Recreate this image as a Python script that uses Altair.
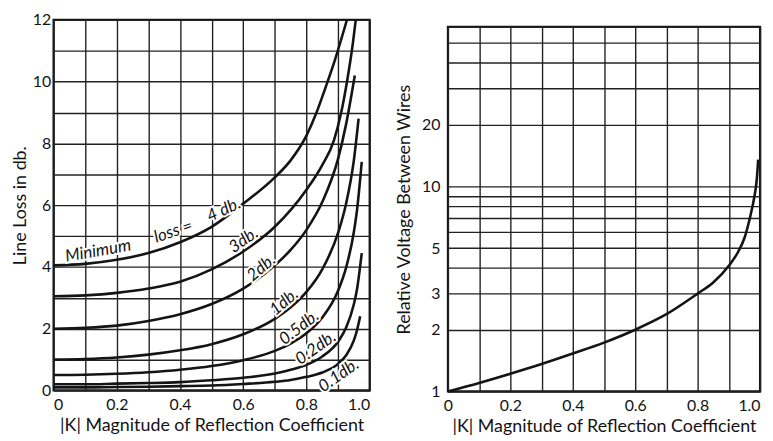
import altair as alt
import pandas as pd

# ---------------- Left panel: line loss vs |K| ----------------
k_4db = [0, 0.1, 0.2, 0.3, 0.4, 0.5, 0.6, 0.7, 0.75, 0.8, 0.83, 0.86, 0.89, 0.928]
loss_4db = [4.05, 4.1, 4.23, 4.45, 4.8, 5.3, 6.05, 6.9, 7.45, 8.25, 8.95, 9.8, 10.7, 12.0]

k_3db = [0, 0.1, 0.2, 0.3, 0.4, 0.5, 0.6, 0.7, 0.8, 0.85, 0.887, 0.91, 0.93, 0.945, 0.956]
loss_3db = [3.05, 3.08, 3.16, 3.3, 3.52, 3.92, 4.5, 5.3, 6.5, 7.3, 8.1, 9.0, 10.1, 11.1, 12.0]

k_2db = [0, 0.1, 0.2, 0.3, 0.4, 0.5, 0.6, 0.7, 0.75, 0.8, 0.85, 0.9, 0.925, 0.953]
loss_2db = [2.0, 2.03, 2.1, 2.25, 2.47, 2.8, 3.3, 4.05, 4.55, 5.2, 6.1, 7.5, 8.6, 10.2]

k_1db = [0, 0.1, 0.2, 0.3, 0.4, 0.5, 0.6, 0.7, 0.75, 0.8, 0.85, 0.9, 0.925, 0.95, 0.965]
loss_1db = [1.0, 1.02, 1.07, 1.16, 1.3, 1.5, 1.82, 2.32, 2.69, 3.19, 3.92, 5.1, 6.03, 7.45, 8.8]

k_05db = [0, 0.1, 0.2, 0.3, 0.4, 0.5, 0.6, 0.7, 0.75, 0.8, 0.85, 0.9, 0.925, 0.95, 0.96, 0.975]
loss_05db = [0.5, 0.51, 0.54, 0.59, 0.67, 0.79, 0.98, 1.28, 1.52, 1.85, 2.36, 3.23, 3.96, 5.13, 5.84, 7.4]

k_02db = [0, 0.1, 0.2, 0.3, 0.4, 0.5, 0.6, 0.7, 0.75, 0.8, 0.85, 0.9, 0.925, 0.95, 0.96, 0.975]
loss_02db = [0.2, 0.2, 0.22, 0.24, 0.27, 0.33, 0.41, 0.55, 0.67, 0.83, 1.1, 1.58, 2.02, 2.79, 3.28, 4.45]

k_01db = [0, 0.1, 0.2, 0.3, 0.4, 0.5, 0.6, 0.7, 0.75, 0.8, 0.85, 0.9, 0.925, 0.95, 0.96, 0.97]
loss_01db = [0.1, 0.1, 0.11, 0.12, 0.14, 0.16, 0.21, 0.28, 0.34, 0.44, 0.58, 0.86, 1.13, 1.62, 1.95, 2.4]

curve_names = ["4", "3", "2", "1", "0.5", "0.2", "0.1"]
curve_k = [k_4db, k_3db, k_2db, k_1db, k_05db, k_02db, k_01db]
curve_loss = [loss_4db, loss_3db, loss_2db, loss_1db, loss_05db, loss_02db, loss_01db]

label_text = ["Minimum", "loss =", "4 db.", "3db.", "2db.", "1db.", "0.5db.", "0.2db.", "0.1db."]
label_k = [0.141, 0.379, 0.539, 0.602, 0.658, 0.73, 0.777, 0.83, 0.903]
label_loss = [4.51, 5.14, 5.84, 4.86, 3.97, 2.86, 2.03, 1.37, 0.48]
label_angle = [350, 341, 335, 325, 320, 320, 322, 325, 325]

# ticks / grid
k_grid = [0, 0.1, 0.2, 0.3, 0.4, 0.5, 0.6, 0.7, 0.8, 0.9, 1.0]
loss_grid = [0, 1, 2, 3, 4, 5, 6, 7, 8, 9, 10, 11, 12]

# ---------------- Right panel: relative voltage ----------------
k_volt = [0, 0.1, 0.2, 0.3, 0.4, 0.5, 0.6, 0.7, 0.8, 0.85, 0.9, 0.93, 0.95, 0.97, 0.98, 0.99, 0.994]
volt = [1.0, 1.1, 1.22, 1.36, 1.53, 1.73, 2.0, 2.38, 3.0, 3.4, 4.1, 4.8, 5.6, 7.3, 8.6, 11.0, 13.5]
volt_grid = [1, 2, 3, 4, 5, 6, 7, 8, 9, 10, 20, 30, 40, 50, 60]
volt_labels = [1, 2, 3, 5, 10, 20]

INK = "#141414"
FONT = "Lato"

rows = []
for name, ks, ls in zip(curve_names, curve_k, curve_loss):
    for k, l in zip(ks, ls):
        rows.append({"curve": name, "K": k, "loss": l})
curves_df = pd.DataFrame(rows)
labels_df = pd.DataFrame({"text": label_text, "K": label_k, "loss": label_loss, "angle": label_angle})
volt_df = pd.DataFrame({"K": k_volt, "V": volt})

x_label_expr = "round(datum.value*10) % 2 == 0 ? (datum.value == 0 ? '0' : format(datum.value, '.1f')) : ''"
volt_label_expr = "indexof([" + ",".join(str(v) for v in volt_labels) + "], datum.value) >= 0 ? toString(datum.value) : ''"

x_left = alt.X("K:Q", scale=alt.Scale(domain=[0, 1], nice=False),
               axis=alt.Axis(values=k_grid, labelExpr=x_label_expr, title="|K| Magnitude of Reflection Coefficient",
                             ticks=False, domain=False, labelOverlap=False, labelPadding=6, titlePadding=4))
y_left = alt.Y("loss:Q", scale=alt.Scale(domain=[0, 12], nice=False),
               axis=alt.Axis(values=loss_grid, labelExpr="datum.value % 2 == 0 ? datum.label : ''",
                             title="Line Loss in db.", ticks=False, domain=False, labelOverlap=False,
                             labelPadding=3, titlePadding=3))

lines_left = alt.Chart(curves_df).mark_line(color=INK, strokeWidth=2.6, interpolate="monotone").encode(
    x=x_left, y=y_left, detail="curve:N")

halo = alt.Chart(labels_df).mark_text(font=FONT, fontSize=17, fontStyle="italic", stroke="white",
                                      strokeWidth=4, fill="white").encode(
    x=x_left, y=y_left, text="text:N", angle=alt.Angle("angle:Q", scale=None))
texts = alt.Chart(labels_df).mark_text(font=FONT, fontSize=17, fontStyle="italic", color=INK).encode(
    x=x_left, y=y_left, text="text:N", angle=alt.Angle("angle:Q", scale=None))

left = alt.layer(lines_left, halo, texts).properties(width=319, height=374)

x_right = alt.X("K:Q", scale=alt.Scale(domain=[0, 1], nice=False),
                axis=alt.Axis(values=k_grid, labelExpr=x_label_expr, title="|K| Magnitude of Reflection Coefficient",
                              ticks=False, domain=False, labelOverlap=False, labelPadding=6, titlePadding=4,
                              labelAlign={"condition": {"test": "datum.value > 0.99", "value": "right"},
                                          "value": "center"}))
y_right = alt.Y("V:Q", scale=alt.Scale(type="log", domain=[1, 60], nice=False),
                axis=alt.Axis(values=volt_grid, labelExpr=volt_label_expr,
                              title="Relative Voltage Between Wires", ticks=False, domain=False,
                              labelOverlap=False, labelPadding=8, titlePadding=8))

right = alt.Chart(volt_df).mark_line(color=INK, strokeWidth=2.6, interpolate="monotone").encode(
    x=x_right, y=y_right).properties(width=315, height=368)

spacer = alt.Chart(pd.DataFrame({"a": [0]})).mark_point(opacity=0, size=0).properties(
    width=315, height=1, view=alt.ViewBackground(stroke=None))

right_col = alt.vconcat(spacer, right, spacing=-4)

chart = alt.hconcat(left, right_col, spacing=23).properties(
    padding={"left": 2, "top": 0, "right": 0, "bottom": 0}
).configure(font=FONT).configure_view(
    stroke=INK, strokeWidth=2.2
).configure_axis(
    grid=True, gridColor="#222222", gridWidth=1.4, gridOpacity=1,
    labelFont=FONT, labelFontSize=16, labelColor=INK,
    titleFont=FONT, titleFontSize=18, titleFontWeight="normal", titleColor=INK
)

chart.save("out.html", embed_options={"renderer": "svg", "actions": False})
